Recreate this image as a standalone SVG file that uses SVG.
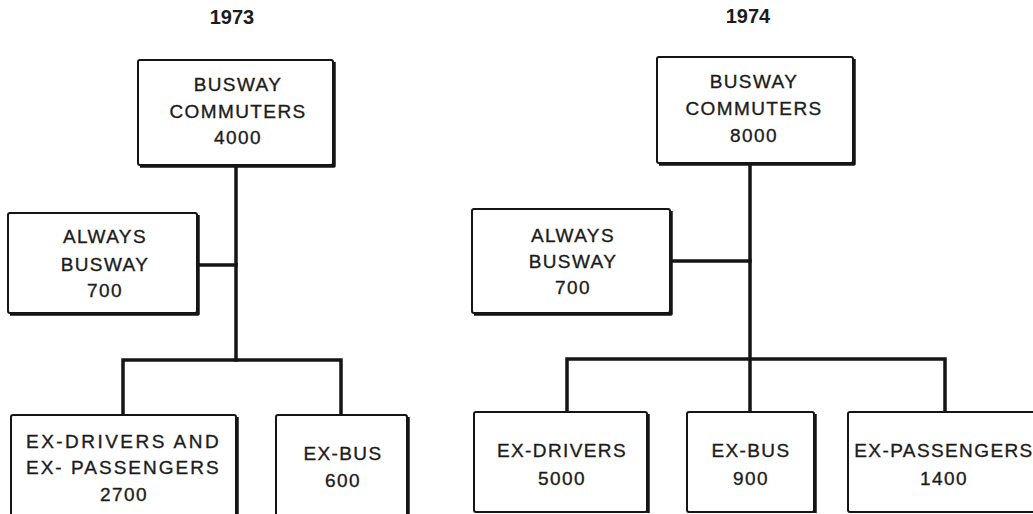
<svg xmlns="http://www.w3.org/2000/svg" width="1033" height="514" viewBox="0 0 1033 514">
<style>
  .bg { fill: #ffffff; }
  .box { fill: #ffffff; stroke: #151515; stroke-width: 2; }
  .shadow { fill: none; stroke: #151515; stroke-width: 3.5; stroke-linejoin: round; }
  .conn { fill: none; stroke: #151515; stroke-width: 3.5; stroke-linecap: square; }
  .lbl { font-family: "Liberation Sans", Arial, sans-serif; font-size: 19px; letter-spacing: 1.4px; fill: #1c1c1c; stroke: #1c1c1c; stroke-width: 0.35px; text-anchor: middle; }
  .title { font-family: "Liberation Sans", Arial, sans-serif; font-size: 20px; font-weight: bold; fill: #1c1c1c; text-anchor: middle; }
</style>
<rect class="bg" x="0" y="0" width="1033" height="514"/>

<g id="titles">
  <text class="title" x="232" y="24">1973</text>
  <text class="title" x="748" y="23">1974</text>
</g>

<g id="connectors">
  <!-- 1973 -->
  <line class="conn" x1="236" y1="165" x2="236" y2="360"/>
  <line class="conn" x1="197" y1="265" x2="236" y2="265"/>
  <polyline class="conn" points="123,415 123,360 341,360 341,415"/>
  <!-- 1974 -->
  <line class="conn" x1="750" y1="163" x2="750" y2="412"/>
  <line class="conn" x1="670" y1="261" x2="750" y2="261"/>
  <polyline class="conn" points="567,412 567,359 945,359 945,412"/>
</g>

<g id="n73_top">
  <rect class="box" x="138" y="60" width="195" height="105" rx="2"/>
  <polyline class="shadow" points="334,62 334,166 140,166"/>
  <text class="lbl" x="238" y="91">BUSWAY</text>
  <text class="lbl" x="238" y="118">COMMUTERS</text>
  <text class="lbl" x="238" y="144">4000</text>
</g>

<g id="n73_always">
  <rect class="box" x="8" y="213" width="189" height="100" rx="2"/>
  <polyline class="shadow" points="198,215 198,314 10,314"/>
  <text class="lbl" x="105" y="243">ALWAYS</text>
  <text class="lbl" x="105" y="271">BUSWAY</text>
  <text class="lbl" x="105" y="297">700</text>
</g>

<g id="n73_exdrivers">
  <rect class="box" x="11" y="415" width="225" height="110" rx="2"/>
  <polyline class="shadow" points="237,417 237,530"/>
  <text class="lbl" x="123" y="448" textLength="194" lengthAdjust="spacing">EX-DRIVERS AND</text>
  <text class="lbl" x="123" y="474" textLength="194" lengthAdjust="spacing">EX- PASSENGERS</text>
  <text class="lbl" x="124" y="501">2700</text>
</g>

<g id="n73_exbus">
  <rect class="box" x="276" y="415" width="131" height="110" rx="2"/>
  <polyline class="shadow" points="408,417 408,530"/>
  <text class="lbl" x="343" y="460">EX-BUS</text>
  <text class="lbl" x="343" y="487">600</text>
</g>

<g id="n74_top">
  <rect class="box" x="657" y="57" width="196" height="106" rx="2"/>
  <polyline class="shadow" points="854,59 854,164 659,164"/>
  <text class="lbl" x="754" y="88">BUSWAY</text>
  <text class="lbl" x="754" y="115">COMMUTERS</text>
  <text class="lbl" x="754" y="142">8000</text>
</g>

<g id="n74_always">
  <rect class="box" x="472" y="209" width="198" height="104" rx="2"/>
  <polyline class="shadow" points="671,211 671,314 474,314"/>
  <text class="lbl" x="573" y="242">ALWAYS</text>
  <text class="lbl" x="573" y="268">BUSWAY</text>
  <text class="lbl" x="573" y="294">700</text>
</g>

<g id="n74_exdrivers">
  <rect class="box" x="474" y="412" width="173" height="100" rx="2"/>
  <polyline class="shadow" points="648,414 648,513"/>
  <text class="lbl" x="562" y="457">EX-DRIVERS</text>
  <text class="lbl" x="562" y="485">5000</text>
</g>

<g id="n74_exbus">
  <rect class="box" x="687" y="412" width="127" height="100" rx="2"/>
  <polyline class="shadow" points="815,414 815,513"/>
  <text class="lbl" x="751" y="457">EX-BUS</text>
  <text class="lbl" x="751" y="485">900</text>
</g>

<g id="n74_expassengers">
  <rect class="box" x="848" y="412" width="200" height="100" rx="2"/>
  <text class="lbl" x="944" y="457">EX-PASSENGERS</text>
  <text class="lbl" x="944" y="485">1400</text>
</g>
</svg>
